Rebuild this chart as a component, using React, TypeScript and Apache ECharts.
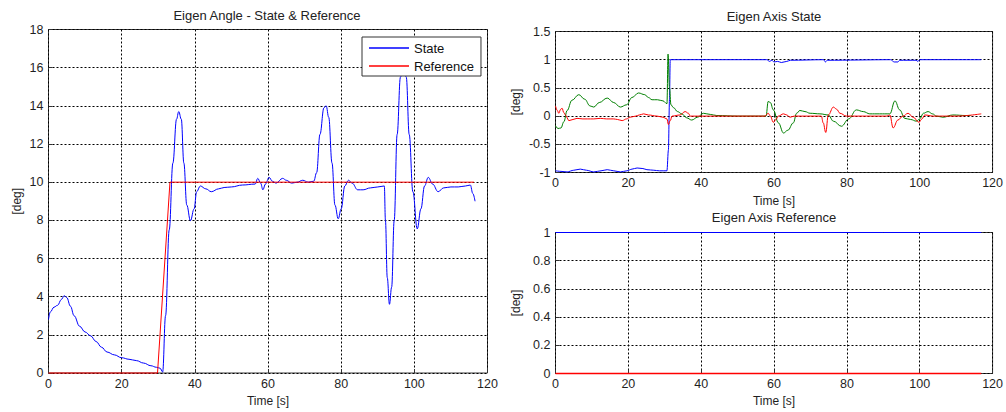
import React, { useEffect, useRef } from "react";
import * as echarts from "echarts";

// Eigen angle (state) over time
const angleTime = [
  0, 0.5, 1.5, 2.5, 3.5, 4.3, 5.0, 6.0, 7.0, 8.5, 10.0, 11.5, 13.0, 14.5, 16.0, 18.0, 20.0, 22.0, 24.0,
  26.0, 28.0, 29.5, 30.5, 31.2, 32.0, 33.0, 34.0, 35.0, 35.6, 36.3, 37.0, 37.8, 38.8, 39.8, 40.5, 41.5,
  43.0, 44.5, 46.5, 48.0, 50.0, 53.0, 56.5, 57.2, 58.0, 58.6, 59.3, 60.3, 61.2, 62.2, 64.0, 65.0, 66.5,
  68.0, 69.5, 71.0, 72.5, 73.3, 74.2, 75.3, 75.9, 76.6, 77.5, 78.3, 79.2, 80.0, 81.0, 82.0, 83.0, 84.5,
  86.0, 88.0, 90.0, 91.8, 92.1, 92.6, 93.2, 93.8, 94.5, 95.3, 96.2, 97.0, 97.8, 98.6, 99.6, 100.8, 101.8,
  102.8, 103.8, 105.0, 106.5, 108.0, 110.0, 112.0, 114.0, 115.3, 116.0, 116.6,
];
const angleState = [
  2.8, 3.2, 3.45, 3.55, 3.85, 4.05, 3.95, 3.5, 3.0, 2.45, 2.15, 1.95, 1.65, 1.35, 1.1, 0.95, 0.8, 0.72, 0.65,
  0.52, 0.38, 0.3, 0.25, 0.05, 3.0, 7.5, 11.0, 13.3, 13.7, 13.3, 11.0, 8.8, 7.98, 8.6, 9.5, 9.8,
  9.65, 9.5, 9.65, 9.72, 9.75, 9.85, 9.9, 10.2, 9.95, 9.6, 9.9, 10.25, 10.05, 9.95, 10.2, 10.1, 9.95,
  10.0, 10.1, 10.0, 10.05, 10.5, 12.5, 13.9, 14.0, 13.4, 11.0, 8.8, 8.08, 8.6, 9.8, 10.1, 9.95, 9.6,
  9.6, 9.7, 9.75, 9.8, 8.0, 5.0, 3.6, 4.5, 8.0, 12.5, 15.5, 16.2, 15.5, 12.5, 9.5, 7.55, 8.6,
  9.8, 10.25, 9.9, 9.5, 9.7, 9.75, 9.75, 9.8, 9.85, 9.4, 9.0,
];

// Eigen angle (reference) over time
const refAngleTime = [0, 29.8, 33.2, 116.3];
const refAngle = [0, 0, 10, 10];

// Eigen axis state components
const axisXTime = [
  0, 1.5, 3.2, 5, 6.8, 8.5, 10.5, 12.5, 14.2, 16, 17.8, 19.6, 21, 22.4, 24, 25.1, 27, 28.5, 30.6, 31.0,
  31.3, 31.5, 40, 58, 58.8, 59.4, 60, 61, 62, 63.5, 64.5, 73.6, 74.1, 74.6, 92, 93, 94, 94.5, 99, 99.5,
  100, 116.9,
];
const axisX = [
  -0.97, -0.98, -0.99, -0.96, -0.94, -0.96, -0.99, -0.97, -0.95, -0.97, -0.99, -0.97, -0.94, -0.92, -0.93,
  -0.95, -0.96, -0.97, -0.97, -0.6, 0.3, 1.0, 1.0, 1.0, 0.97, 0.99, 0.96, 0.97, 0.95, 0.97, 0.99, 1.0,
  0.96, 0.99, 1.0, 0.96, 0.96, 0.99, 0.99, 0.97, 1.0, 1.0,
];

const axisYTime = [
  0, 0.7, 1.5, 2.3, 3.2, 4.5, 6.4, 8, 9.5, 10.5, 12, 14.2, 16, 17.8, 19.5, 21, 22.8, 24.5, 25.5, 26.5, 28,
  29.5, 30.6, 30.9, 31.3, 31.7, 32.4, 33.5, 34.7, 36, 37.4, 39, 40.6, 42.5, 44.3, 50, 55, 57.8, 58.4, 59.0,
  59.8, 61.2, 62.6, 63.8, 65.3, 66.2, 67.1, 68.5, 69.9, 72.6, 74.9, 76.3, 78.5, 80.5, 82.6, 84.5, 86.3,
  89, 91.8, 93.2, 94.5, 95.9, 97.5, 99.1, 100, 101, 102.3, 103.5, 104.6, 106.4, 109.1, 112.8, 114,
];
const axisY = [
  -0.17, -0.22, -0.21, -0.1, 0.1, 0.28, 0.38, 0.3, 0.18, 0.16, 0.24, 0.32, 0.24, 0.16, 0.2, 0.33, 0.41,
  0.38, 0.33, 0.29, 0.29, 0.27, 0.22, 1.1, 0.5, 0.2, 0.15, 0.08, 0.04, -0.03, -0.07, -0.02, 0.05, 0.03,
  0.01, 0.0, 0.0, 0.0, 0.26, 0.24, 0.11, -0.12, -0.3, -0.25, -0.12, 0.05, 0.1, 0.08, 0.05, 0.04, 0.02,
  -0.09, -0.18, -0.05, 0.11, 0.08, 0.04, 0.04, 0.04, 0.27, 0.11, -0.04, -0.06, -0.09, -0.05, 0.05, 0.08,
  0.04, 0.0, -0.02, 0.02, 0.01, 0.01,
];

const axisZTime = [
  0, 0.5, 0.9, 1.4, 1.8, 2.3, 2.7, 3.7, 4.8, 5.9, 7.5, 8.7, 10.5, 12.3, 14, 16, 17, 18.3, 19.5, 20.5, 22,
  23, 24.2, 25.5, 27.9, 29.5, 30.6, 31, 31.5, 32, 34.2, 35.6, 36.5, 37, 39.7, 57.5, 58.4, 59.0, 59.8, 60.5,
  61.2, 62.6, 63.5, 64.4, 65.5, 73, 73.5, 74.2, 74.9, 76.3, 77.2, 78.1, 79.9, 91, 91.8, 92.7, 94, 95.4,
  96.8, 98.2, 99.8, 100.6, 101.4, 103.7, 110, 116.9,
];
const axisZ = [
  0.18, 0.1, 0.05, 0.12, 0.14, 0.06, 0.02, -0.08, -0.06, -0.04, -0.05, -0.05, -0.05, -0.04, -0.05, -0.05,
  -0.06, -0.08, -0.05, -0.02, 0.0, 0.02, 0.04, 0.02, 0.0, -0.02, -0.05, -0.15, -0.08, 0.0, 0.02, 0.08,
  0.05, 0.0, 0.0, 0.0, 0.05, 0.0, -0.11, -0.06, 0.0, 0.04, 0.02, -0.02, 0.0, 0.0, -0.12, -0.29, 0.02,
  0.16, 0.12, 0.05, 0.0, 0.0, 0.02, -0.21, -0.07, 0.0, 0.05, -0.02, -0.11, -0.05, 0.02, 0.0, 0.0, 0.04,
];

// Eigen axis reference components (the other two components sit together on zero)
const refAxisTime = [0, 30, 60, 90, 116.9];
const refAxisX = [1, 1, 1, 1, 1];
const refAxisZ = [0, 0, 0, 0, 0];

const FONT = '"Liberation Sans", Arial, Helvetica, sans-serif';
const TEXT = "#1f1f1f";
const BLUE = "#0000ff";
const RED = "#ff0000";
const GREEN = "#008000";

const pairs = (t: number[], v: number[]) => t.map((x, i) => [x, v[i]]);

const gridLine = { lineStyle: { color: "#000", type: [2, 2], width: 1 } };

function timeAxis(gridIndex: number, nameGap: number) {
  return {
    type: "value",
    gridIndex,
    min: 0,
    max: 120,
    interval: 20,
    name: "Time [s]",
    nameLocation: "middle",
    nameGap,
    nameTextStyle: { fontFamily: FONT, fontSize: 12, color: TEXT },
    axisLine: { show: false },
    axisTick: { show: true, inside: true, length: 4, lineStyle: { color: "#333" } },
    axisLabel: { fontFamily: FONT, fontSize: 12.5, color: TEXT, margin: 4 },
    splitLine: gridLine,
  };
}

function degAxis(gridIndex: number, min: number, max: number, interval: number, nameGap: number) {
  return {
    type: "value",
    gridIndex,
    min,
    max,
    interval,
    name: "[deg]",
    nameLocation: "middle",
    nameGap,
    nameTextStyle: { fontFamily: FONT, fontSize: 12, color: TEXT },
    axisLine: { show: false },
    axisTick: { show: true, inside: true, length: 4, lineStyle: { color: "#333" } },
    axisLabel: { fontFamily: FONT, fontSize: 12.5, color: TEXT, margin: 5 },
    splitLine: gridLine,
  };
}

function line(
  name: string,
  xi: number,
  data: number[][],
  color: string,
  smooth: number | boolean,
  z = 3,
  width = 1
) {
  return {
    name,
    type: "line",
    xAxisIndex: xi,
    yAxisIndex: xi,
    data,
    symbol: "none",
    smooth,
    smoothMonotone: "x",
    clip: false,
    zlevel: 1,
    z,
    lineStyle: { color, width },
    itemStyle: { color },
  };
}

const gridBox = { show: true, borderColor: "#3a3a3a", borderWidth: 1, backgroundColor: "transparent" };

function titleAt(text: string, left: number, top: number) {
  return {
    text,
    left,
    top,
    textAlign: "center",
    padding: 0,
    textStyle: { fontFamily: FONT, fontSize: 13, fontWeight: "normal", color: "#222" },
  };
}

export default function App() {
  const ref = useRef<HTMLDivElement>(null);

  useEffect(() => {
    if (!ref.current) return;
    const chart = echarts.init(ref.current, null, { renderer: "svg" });
    chart.setOption({
      animation: false,
      backgroundColor: "#fff",
      title: [
        titleAt("Eigen Angle - State & Reference", 267, 9),
        titleAt("Eigen Axis State", 774, 10),
        titleAt("Eigen Axis Reference", 774, 211),
      ],
      legend: {
        data: ["State", "Reference"],
        orient: "vertical",
        left: 362,
        top: 37,
        padding: [3, 7, 2, 7],
        itemGap: 2,
        itemWidth: 40,
        itemHeight: 1.5,
        icon: "rect",
        backgroundColor: "#fff",
        borderColor: "#333",
        borderWidth: 1,
        borderRadius: 0,
        zlevel: 2,
        z: 10,
        textStyle: { fontFamily: FONT, fontSize: 13, color: "#111", lineHeight: 16 },
        selectedMode: false,
      },
      grid: [
        { left: 48.5, top: 29.5, width: 439, height: 346, ...gridBox },
        { left: 555.5, top: 31.5, width: 438, height: 141, ...gridBox },
        { left: 555.5, top: 232.5, width: 438, height: 141, ...gridBox },
      ],
      xAxis: [timeAxis(0, 22), timeAxis(1, 22), timeAxis(2, 21)],
      yAxis: [degAxis(0, 0, 18, 2, 26), degAxis(1, -1, 1.5, 0.5, 34), degAxis(2, 0, 1, 0.2, 34)],
      series: [
        line("State", 0, pairs(angleTime, angleState), BLUE, 0.4),
        line("Reference", 0, pairs(refAngleTime, refAngle), RED, false, 4),
        line("Axis X", 1, pairs(axisXTime, axisX), BLUE, 0.3),
        line("Axis Y", 1, pairs(axisYTime, axisY), GREEN, 0.4),
        line("Axis Z", 1, pairs(axisZTime, axisZ), RED, 0.4, 4),
        line("Ref X", 2, pairs(refAxisTime, refAxisX), BLUE, false),
        line("Ref Z", 2, pairs(refAxisTime, refAxisZ), RED, false, 10, 1.5),
      ],
    });
    return () => chart.dispose();
  }, []);

  return (
    <div
      ref={ref}
      style={{ position: "fixed", left: 0, top: 0, width: 1006, height: 412, background: "#fff" }}
    />
  );
}
